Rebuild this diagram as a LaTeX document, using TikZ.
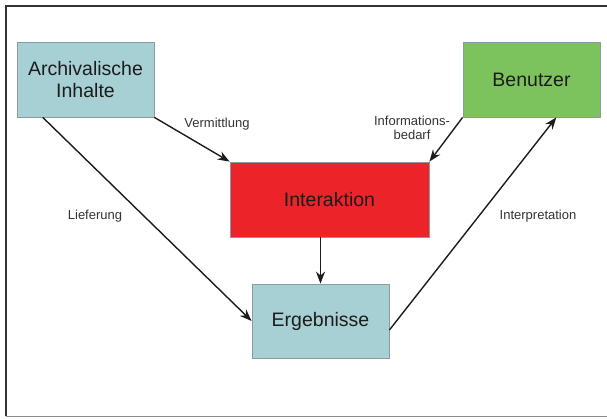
\documentclass[tikz,border=0pt]{standalone}
\usepackage{fontspec}
\setmainfont{Liberation Sans}
\usetikzlibrary{calc,arrows.meta}
\definecolor{boxblue}{HTML}{A7D0D5}
\definecolor{boxgreen}{HTML}{7CC35E}
\definecolor{boxred}{HTML}{EC2429}
\definecolor{edge}{HTML}{8C9C9E}
\definecolor{ink}{HTML}{1C1C1C}
\tikzset{
  box/.style={draw=edge, line width=0.8pt, minimum width=137pt, minimum height=75pt,
    align=center, text=ink, font=\fontsize{19.5}{22}\selectfont},
  flow/.style={draw=ink, line width=1.4pt, -{Stealth[length=12pt,width=9pt]}},
  tag/.style={text=ink!90, font=\fontsize{13}{15}\selectfont, align=center}
}
\begin{document}
\begin{tikzpicture}[x=1pt,y=-1pt]
\useasboundingbox (0,0) rectangle (607,418);
% frame
\draw[draw=black!80, line width=1.6pt] (607,6)--(6,6)--(6,416);
\draw[draw=black!45, line width=1pt] (6,416)--(607,416);
% boxes
\node[box, fill=boxblue] (archiv) at (85.5,79.5) {Archivalische\\Inhalte};
\node[box, fill=boxgreen] (benutzer) at (531.5,79.5) {Benutzer};
\node[box, fill=boxred, minimum width=199pt] (inter) at (329.5,199.5) {Interaktion};
\node[box, fill=boxblue, minimum height=74pt] (ergeb) at (320.5,321) {Ergebnisse};
% arrows
\draw[flow] (archiv.south east) -- (inter.north west);
\draw[flow] (benutzer.south west) -- (inter.north east);
\draw[flow] ($(archiv.south west)!0.19!(archiv.south east)$) -- (ergeb.west);
\draw[flow] ([yshift=-9pt]ergeb.east) -- ($(benutzer.south west)!0.68!(benutzer.south east)$);
\draw[flow] (inter.south -| ergeb.north) -- (ergeb.north);
% labels
\node[tag] (vermittlung) at (217,124) {Vermittlung};
\node[tag, font=\fontsize{13}{14}\selectfont] (bedarf) at (412,128) {Informations-\\bedarf};
\node[tag] (lieferung) at (95,216) {Lieferung};
\node[tag] (interpretation) at (538,216) {Interpretation};
\end{tikzpicture}
\end{document}
